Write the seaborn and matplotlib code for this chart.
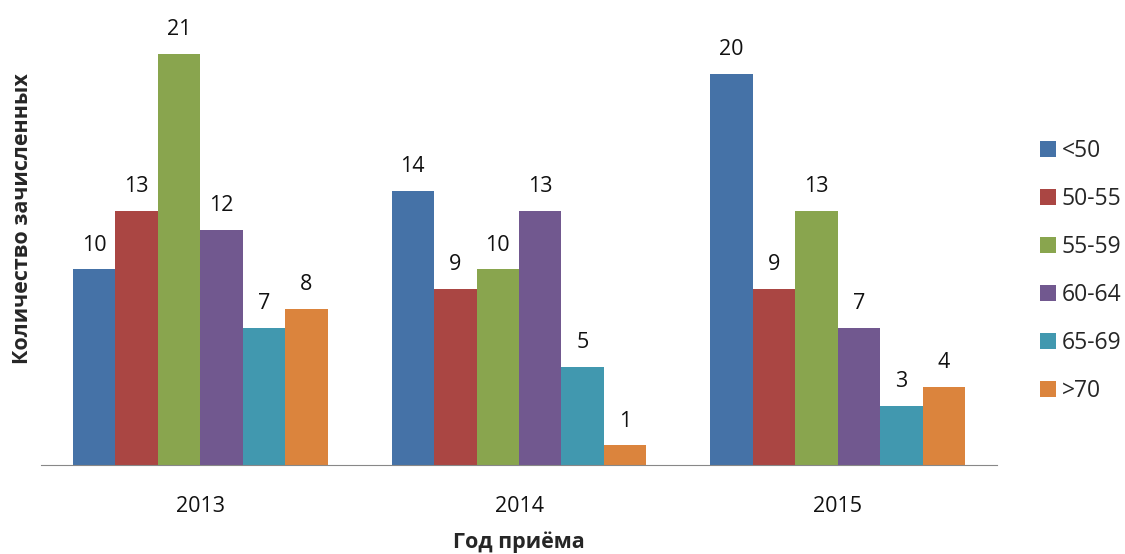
import matplotlib
matplotlib.use("Agg")
import matplotlib.pyplot as plt
import seaborn as sns
import pandas as pd

years = ["2013", "2014", "2015"]
groups = ["<50", "50-55", "55-59", "60-64", "65-69", ">70"]
vals_lt50 = [10, 14, 20]
vals_50_55 = [13, 9, 9]
vals_55_59 = [21, 10, 13]
vals_60_64 = [12, 13, 7]
vals_65_69 = [7, 5, 3]
vals_gt70 = [8, 1, 4]
colors = ["#4572A7", "#AA4643", "#89A54E", "#71588F", "#4198AF", "#DB843D"]

series = [vals_lt50, vals_50_55, vals_55_59, vals_60_64, vals_65_69, vals_gt70]
rows = []
for g, vals in zip(groups, series):
    for y, v in zip(years, vals):
        rows.append({"year": y, "group": g, "value": v})
df = pd.DataFrame(rows)

sns.set_style("white")
plt.rcParams["font.family"] = ["Open Sans", "DejaVu Sans"]

fig = plt.figure(figsize=(11.25, 5.54), dpi=100)
ax = fig.add_axes([41/1125, 89/554, 956/1125, 430.3/554])
sns.barplot(data=df, x="year", y="value", hue="group", hue_order=groups,
            order=years, palette=colors, width=0.8, saturation=1,
            edgecolor="none", linewidth=0, ax=ax)
for c in ax.containers:
    ax.bar_label(c, padding=10, fontsize=15.5, color="#111111")

ax.set_xlim(-0.5, 2.5)
ax.set_ylim(0, 22)
ax.set_yticks([])
for s in ["top", "right", "left"]:
    ax.spines[s].set_visible(False)
ax.spines["bottom"].set_color("#888888")
ax.tick_params(axis="x", length=0, pad=22.5, labelsize=15.5, labelcolor="#111111")
ax.set_xlabel("Год приёма", fontsize=15.5, fontweight="bold", labelpad=10.5)
ax.set_ylabel("Количество зачисленных", fontsize=15.5, fontweight="bold")
ax.yaxis.set_label_coords(-0.008, 0.572)

leg = ax.legend(loc="center left", bbox_to_anchor=(1.0445, 0.451), frameon=False,
                fontsize=16.5, handlelength=0.71, handleheight=0.71,
                labelspacing=1.045, handletextpad=0.25, borderpad=0,
                borderaxespad=0)
fig.savefig("out.png", dpi=100)
